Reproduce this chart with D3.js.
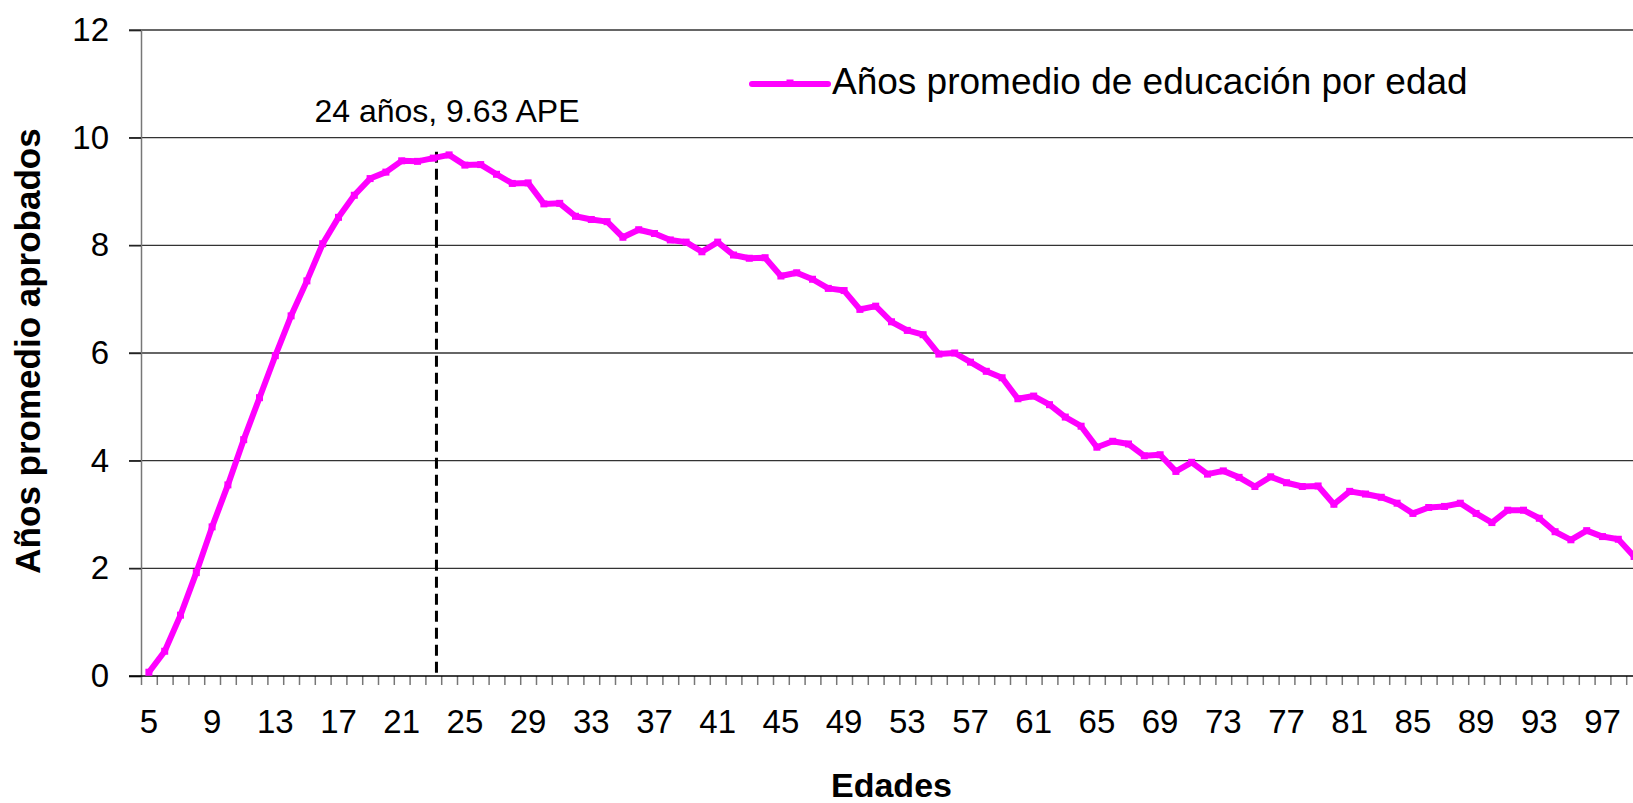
<!DOCTYPE html>
<html>
<head>
    <meta charset="utf-8">
    <script src="https://d3js.org/d3.v7.min.js"></script>
    <style>
        body { margin: 0; background: #fff; }
        svg { display: block; }
        text { font-family: Arial, 'Liberation Sans', sans-serif; fill: #000; }
    </style>
</head>
<body>
    <script>
        // Ages 5..99 and average years of education
        const ages = d3.range(5, 100);
        const years = [
            0.07, 0.46, 1.13, 1.92, 2.77, 3.55, 4.39, 5.17, 5.95, 6.69,   // 5-14
            7.34, 8.03, 8.52, 8.93, 9.24, 9.36, 9.57, 9.56, 9.62, 9.68,   // 15-24
            9.49, 9.50, 9.32, 9.15, 9.16, 8.77, 8.78, 8.54, 8.48, 8.44,   // 25-34
            8.15, 8.29, 8.22, 8.10, 8.06, 7.88, 8.06, 7.82, 7.76, 7.77,   // 35-44
            7.43, 7.49, 7.37, 7.20, 7.16, 6.81, 6.87, 6.58, 6.42, 6.34,   // 45-54
            5.98, 6.00, 5.83, 5.66, 5.54, 5.15, 5.20, 5.04, 4.81, 4.64,   // 55-64
            4.25, 4.36, 4.31, 4.09, 4.11, 3.80, 3.97, 3.75, 3.81, 3.69,   // 65-74
            3.52, 3.70, 3.59, 3.52, 3.53, 3.19, 3.43, 3.38, 3.32, 3.21,   // 75-84
            3.02, 3.13, 3.15, 3.21, 3.02, 2.85, 3.08, 3.08, 2.93, 2.68,   // 85-94
            2.53, 2.70, 2.59, 2.54, 2.22                                  // 95-99
        ];
        const yTicks = [0, 2, 4, 6, 8, 10, 12];
        const xTickLabels = d3.range(5, 100, 4);
        const peakLabel = '24 años, 9.63 APE';
        const peakLineAge = 23.2;
        const peakLineTop = 9.74;
        const seriesName = 'Años promedio de educación por edad';

        const data = ages.map((a, i) => ({ age: a, value: years[i] }));

        const width = 1633, height = 803;
        const plot = { left: 141, right: 1642, top: 30, bottom: 676 };

        const svg = d3.select('body')
            .append('svg')
            .attr('width', width)
            .attr('height', height);

        const x = d3.scaleLinear()
            .domain([4.5, 99.5])
            .range([plot.left, plot.right]);

        const y = d3.scaleLinear()
            .domain([0, 12])
            .range([plot.bottom, plot.top]);

        // horizontal gridlines
        svg.append('g')
            .selectAll('line')
            .data(yTicks.filter(d => d > 0))
            .join('line')
            .attr('x1', plot.left - 12)
            .attr('x2', plot.right)
            .attr('y1', d => y(d))
            .attr('y2', d => y(d))
            .attr('stroke', '#333')
            .attr('stroke-width', 1.4);

        // y axis
        const yAxis = svg.append('g')
            .attr('transform', `translate(${plot.left},0)`)
            .call(d3.axisLeft(y).tickValues(yTicks).tickSize(12).tickPadding(20));
        yAxis.select('.domain').attr('stroke', '#777').attr('stroke-width', 1.5);
        yAxis.selectAll('.tick line').attr('stroke', '#222').attr('stroke-width', 1.4);
        yAxis.selectAll('.tick text')
            .attr('font-size', 33)
            .attr('font-family', "Arial, 'Liberation Sans', sans-serif")
            .attr('fill', '#000');

        // x axis: ticks between categories, labels every 4 years
        const boundaries = d3.range(4.5, 100, 1);
        const xAxis = svg.append('g')
            .attr('transform', `translate(0,${plot.bottom})`)
            .call(d3.axisBottom(x).tickValues(boundaries).tickSize(9).tickFormat(''));
        xAxis.select('.domain').remove();
        xAxis.selectAll('.tick line').attr('stroke', '#777').attr('stroke-width', 1.5);

        svg.append('line')
            .attr('x1', plot.left - 12)
            .attr('x2', plot.right)
            .attr('y1', plot.bottom)
            .attr('y2', plot.bottom)
            .attr('stroke', '#000')
            .attr('stroke-width', 1.4);

        svg.append('g')
            .selectAll('text')
            .data(xTickLabels)
            .join('text')
            .attr('x', d => x(d))
            .attr('y', 733)
            .attr('text-anchor', 'middle')
            .attr('font-size', 33)
            .text(d => d);

        // dashed marker at the peak
        svg.append('line')
            .attr('x1', x(peakLineAge))
            .attr('x2', x(peakLineAge))
            .attr('y1', y(peakLineTop))
            .attr('y2', plot.bottom)
            .attr('stroke', '#000')
            .attr('stroke-width', 3)
            .attr('stroke-dasharray', '11,6');

        svg.append('text')
            .attr('x', 447)
            .attr('y', 122)
            .attr('text-anchor', 'middle')
            .attr('font-size', 32)
            .text(peakLabel);

        // series
        const line = d3.line()
            .x(d => x(d.age))
            .y(d => y(d.value));

        svg.append('path')
            .datum(data)
            .attr('fill', 'none')
            .attr('stroke', '#ff00ff')
            .attr('stroke-width', 6)
            .attr('stroke-linejoin', 'round')
            .attr('d', line);

        svg.append('g')
            .selectAll('rect')
            .data(data)
            .join('rect')
            .attr('x', d => x(d.age) - 3.5)
            .attr('y', d => y(d.value) - 3.5)
            .attr('width', 7)
            .attr('height', 7)
            .attr('fill', '#ff00ff');

        // legend
        const legend = svg.append('g').attr('transform', 'translate(752,84)');
        legend.append('line')
            .attr('x1', 0)
            .attr('x2', 76)
            .attr('stroke', '#ff00ff')
            .attr('stroke-width', 6)
            .attr('stroke-linecap', 'round');
        legend.append('rect')
            .attr('x', 34.5)
            .attr('y', -4.5)
            .attr('width', 7)
            .attr('height', 7)
            .attr('fill', '#ff00ff');
        legend.append('text')
            .attr('x', 80)
            .attr('y', 10)
            .attr('font-size', 37)
            .text(seriesName);

        // axis titles
        svg.append('text')
            .attr('transform', `translate(40,351) rotate(-90)`)
            .attr('text-anchor', 'middle')
            .attr('font-size', 35)
            .attr('font-weight', 'bold')
            .text('Años promedio aprobados');

        svg.append('text')
            .attr('x', (plot.left + plot.right) / 2)
            .attr('y', 797)
            .attr('text-anchor', 'middle')
            .attr('font-size', 34)
            .attr('font-weight', 'bold')
            .text('Edades');
    </script>
</body>
</html>
